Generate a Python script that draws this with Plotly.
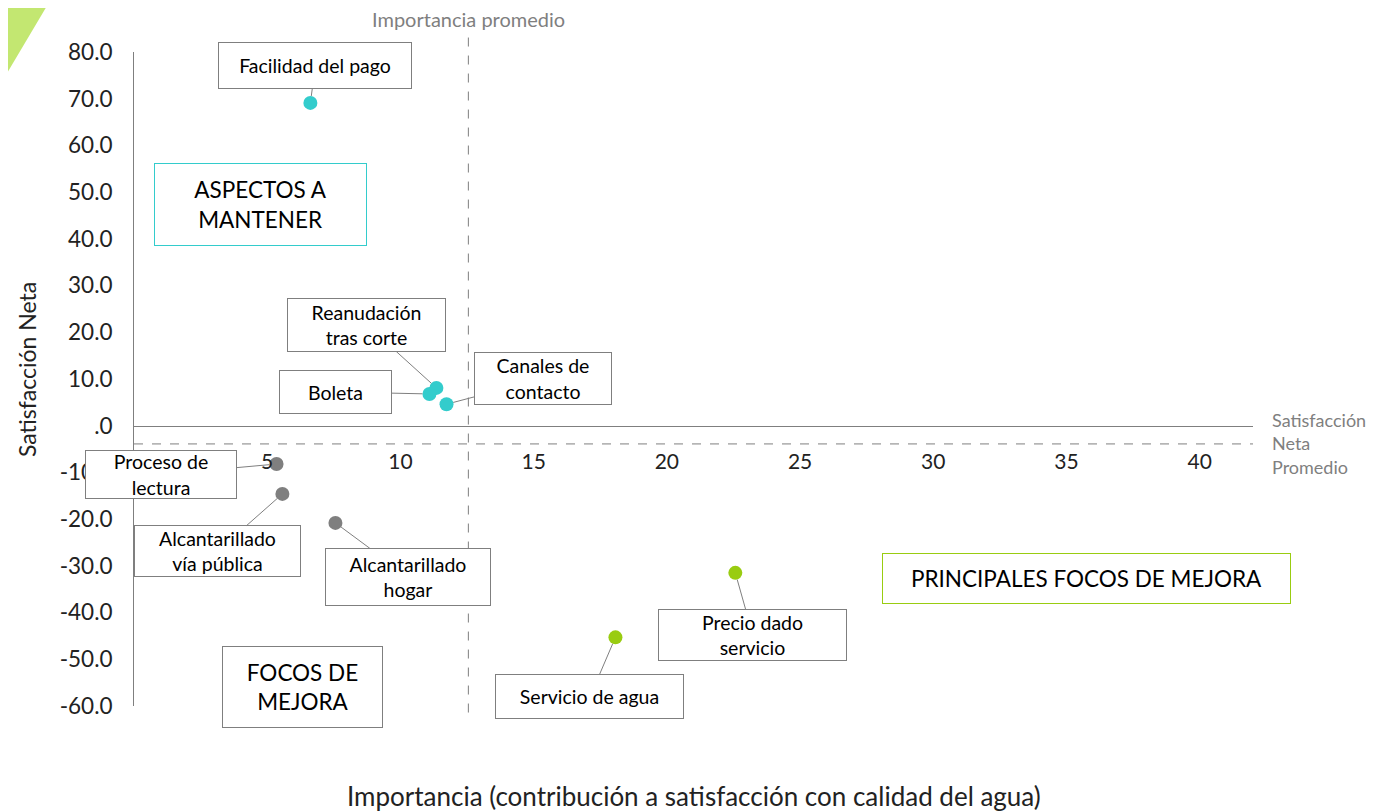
import plotly.graph_objects as go

# ---- data ----
labels = ["Facilidad del pago", "Reanudación<br>tras corte", "Boleta", "Canales de<br>contacto",
          "Proceso de<br>lectura", "Alcantarillado<br>vía pública", "Alcantarillado<br>hogar",
          "Precio dado<br>servicio", "Servicio de agua"]
importance = [6.62, 11.35, 11.09, 11.73, 5.35, 5.57, 7.56, 22.57, 18.07]
satisfaction = [69.1, 8.1, 6.8, 4.6, -8.2, -14.6, -20.8, -31.5, -45.3]
groups = ["keep", "keep", "keep", "keep", "focus", "focus", "focus", "main", "main"]
avg_importance = 12.55
avg_satisfaction = -3.9
x_ticks = [5, 10, 15, 20, 25, 30, 35, 40]
y_ticks = [-60, -50, -40, -30, -20, -10, 0, 10, 20, 30, 40, 50, 60, 70, 80]
y_ticktext = ["-60.0", "-50.0", "-40.0", "-30.0", "-20.0", "-10.0", ".0", "10.0", "20.0",
              "30.0", "40.0", "50.0", "60.0", "70.0", "80.0"]

colors = {"keep": "#33CCCC", "focus": "#7F7F7F", "main": "#99CC11"}
# callout offsets (px) of the label box relative to each point, and box sizes
callout_ax = [5, -69.5, -93.5, 96, -116, -64.5, 73, 17.5, -25.5]
callout_ay = [-37.5, -63, -2, -25.5, 10.5, 57, 54, 62, 59.5]
callout_w = [192, 157, 111, 136, 150, 165, 164, 187, 187]
callout_h = [45, 52, 42, 51, 47, 50, 56, 50, 43]

FONT = "Lato"
fig = go.Figure()
fig.add_trace(go.Scatter(
    x=importance, y=satisfaction, mode="markers",
    marker=dict(size=14, color=[colors[g] for g in groups]),
    cliponaxis=False, hoverinfo="skip"))

# reference lines
fig.add_shape(type="line", xref="x", yref="paper", x0=avg_importance, x1=avg_importance,
              y0=-0.01, y1=1.025, line=dict(color="#7F7F7F", width=1, dash="dash"))
fig.add_shape(type="line", xref="paper", yref="y", x0=0, x1=1, y0=avg_satisfaction,
              y1=avg_satisfaction, line=dict(color="#7F7F7F", width=1, dash="dash"))

# decorative green shape top-left
fig.add_shape(type="path", xref="paper", yref="paper",
              path="M -0.13 1.08 L -0.0745 1.08 L -0.13 0.92 Z",
              fillcolor="#C3E771", line=dict(width=0), layer="below")

ann = []
for i in range(len(labels)):
    ann.append(dict(x=importance[i], y=satisfaction[i], xref="x", yref="y",
                    text=labels[i], showarrow=True, arrowhead=0, arrowwidth=1,
                    arrowcolor="#7F7F7F", ax=callout_ax[i], ay=callout_ay[i],
                    standoff=7, bgcolor="white", bordercolor="#7F7F7F", borderwidth=1,
                    borderpad=0, width=callout_w[i], height=callout_h[i],
                    font=dict(family=FONT, size=19.5, color="#000000")))

ann += [
    dict(x=4.73, y=47.4, xref="x", yref="y", text="ASPECTOS A<br>MANTENER", showarrow=False,
         bordercolor="#33CCCC", borderwidth=1, borderpad=0, width=211, height=81,
         bgcolor="white", font=dict(family=FONT, size=22.5, color="#000000")),
    dict(x=6.34, y=-55.95, xref="x", yref="y", text="FOCOS DE<br>MEJORA", showarrow=False,
         bordercolor="#7F7F7F", borderwidth=1, borderpad=0, width=159, height=80,
         bgcolor="white", font=dict(family=FONT, size=22.5, color="#000000")),
    dict(x=35.76, y=-32.7, xref="x", yref="y", text="PRINCIPALES FOCOS DE MEJORA",
         showarrow=False, bordercolor="#99CC11", borderwidth=1, borderpad=0, width=407,
         height=49, bgcolor="white", font=dict(family=FONT, size=22.5, color="#000000")),
    dict(x=avg_importance, y=1.0505, xref="x", yref="paper", text="Importancia promedio",
         showarrow=False, yanchor="middle",
         font=dict(family=FONT, size=20, color="#7F7F7F")),
    dict(x=1.015, y=avg_satisfaction, xref="paper", yref="y",
         text="Satisfacción<br>Neta<br>Promedio", showarrow=False, xanchor="left",
         align="left", font=dict(family=FONT, size=18, color="#7F7F7F")),
    dict(x=0.5, y=-0.138, xref="paper", yref="paper",
         text="Importancia (contribución a satisfacción con calidad del agua)",
         showarrow=False, yanchor="middle",
         font=dict(family=FONT, size=26, color="#222222")),
    dict(x=-0.0955, y=0.514, xref="paper", yref="paper", text="Satisfacción Neta",
         showarrow=False, textangle=-90, xanchor="center", yanchor="middle",
         font=dict(family=FONT, size=23, color="#222222")),
]

fig.update_layout(
    width=1369, height=804, autosize=False,
    margin=dict(l=125.5, r=124, t=44, b=106),
    paper_bgcolor="white", plot_bgcolor="white",
    showlegend=False, annotations=ann,
    font=dict(family=FONT, color="#222222"),
    xaxis=dict(range=[0, 42], anchor="free", position=60 / 140, showline=True,
               linecolor="#7F7F7F", linewidth=1, showgrid=False, zeroline=False,
               tickvals=x_ticks, ticks="", ticklabelstandoff=17,
               tickfont=dict(family=FONT, size=21, color="#222222")),
    yaxis=dict(range=[-60, 80], showline=True, linecolor="#7F7F7F", linewidth=1,
               showgrid=False, zeroline=False, tickvals=y_ticks, ticktext=y_ticktext,
               ticks="", ticklabelstandoff=16,
               tickfont=dict(family=FONT, size=22.5, color="#222222")),
)

fig.write_html("out.html")
